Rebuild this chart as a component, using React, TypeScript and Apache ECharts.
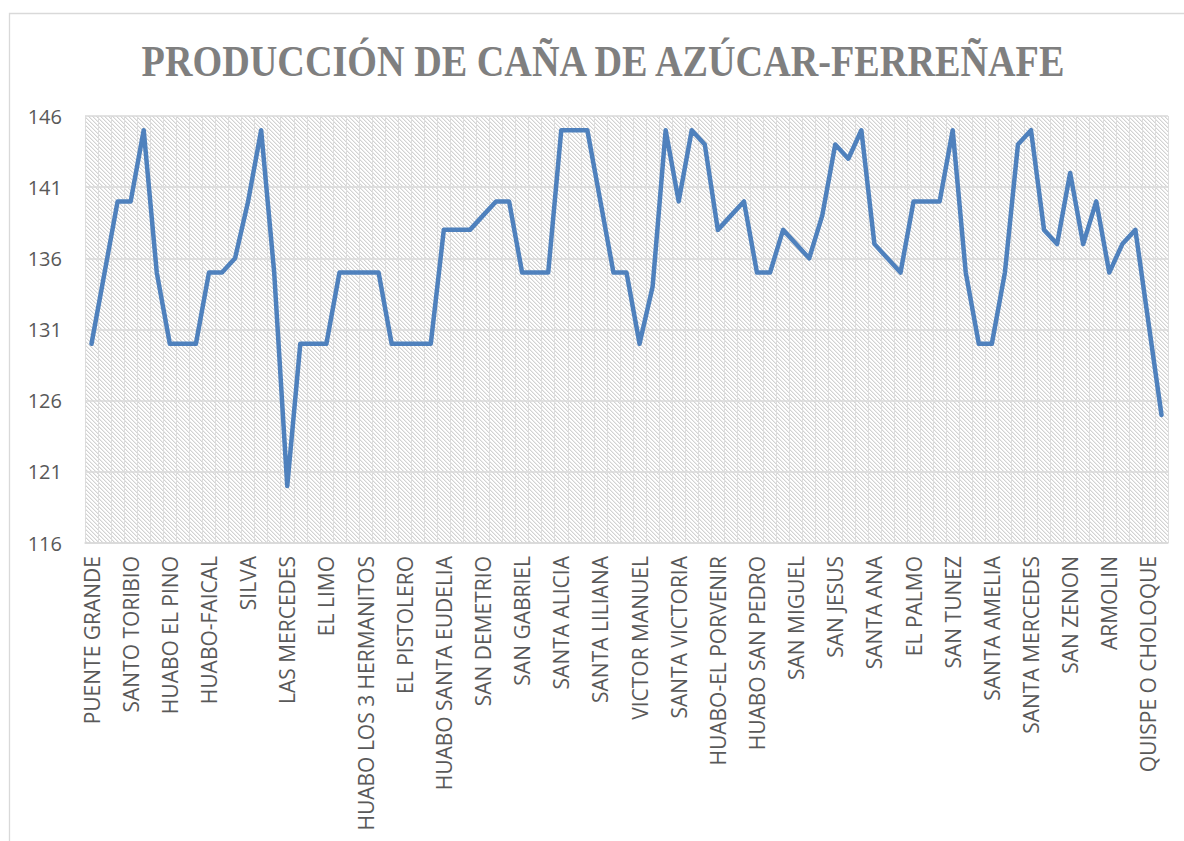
import React, { useEffect, useRef } from "react";
import * as echarts from "echarts";

const TITLE = "PRODUCCIÓN DE CAÑA DE AZÚCAR-FERREÑAFE";

// Labels shown on the axis (every third category)
const LABELS = [
  "PUENTE GRANDE", "SANTO TORIBIO", "HUABO EL PINO", "HUABO-FAICAL", "SILVA",
  "LAS MERCEDES", "EL LIMO", "HUABO LOS 3 HERMANITOS", "EL PISTOLERO",
  "HUABO SANTA EUDELIA", "SAN DEMETRIO", "SAN GABRIEL", "SANTA ALICIA",
  "SANTA LILIANA", "VICTOR MANUEL", "SANTA VICTORIA", "HUABO-EL PORVENIR",
  "HUABO SAN PEDRO", "SAN MIGUEL", "SAN JESUS", "SANTA ANA", "EL PALMO",
  "SAN TUNEZ", "SANTA AMELIA", "SANTA MERCEDES", "SAN ZENON", "ARMOLIN",
  "QUISPE O CHOLOQUE",
];
const LABEL_STEP = 3;

const VALUES = [
  130, 135, 140, 140, 145, 135, 130, 130, 130, 135,
  135, 136, 140, 145, 135, 120, 130, 130, 130, 135,
  135, 135, 135, 130, 130, 130, 130, 138, 138, 138,
  139, 140, 140, 135, 135, 135, 145, 145, 145, 140,
  135, 135, 130, 134, 145, 140, 145, 144, 138, 139,
  140, 135, 135, 138, 137, 136, 139, 144, 143, 145,
  137, 136, 135, 140, 140, 140, 145, 135, 130, 130,
  135, 144, 145, 138, 137, 142, 137, 140, 135, 137,
  138, 131.5, 125,
];

const Y_MIN = 116;
const Y_MAX = 146;
const Y_STEP = 5;

const CATEGORIES = VALUES.map((_, i) =>
  i % LABEL_STEP === 0 ? LABELS[i / LABEL_STEP] ?? "" : ""
);

function makeHatch(): HTMLCanvasElement {
  const c = document.createElement("canvas");
  c.width = 4;
  c.height = 4;
  const ctx = c.getContext("2d")!;
  ctx.fillStyle = "#ffffff";
  ctx.fillRect(0, 0, 4, 4);
  ctx.fillStyle = "#d2d2d2";
  for (let i = 0; i < 4; i++) ctx.fillRect(i, i, 1, 1);
  ctx.fillStyle = "#ececec";
  for (let i = 0; i < 4; i++) ctx.fillRect((i + 1) % 4, i, 1, 1);
  return c;
}

export default function App() {
  const ref = useRef<HTMLDivElement>(null);
  useEffect(() => {
    if (!ref.current) return;
    const chart = echarts.init(ref.current, undefined, { renderer: "svg" });
    const hatch = makeHatch();
    chart.setOption({
      animation: false,
      backgroundColor: "#ffffff",
      grid: {
        left: 85,
        right: 16,
        top: 116,
        bottom: 298,
        show: true,
        borderWidth: 0,
        backgroundColor: { image: hatch, repeat: "repeat" } as any,
      },
      graphic: [
        {
          type: "rect",
          shape: { x: 9.5, y: 13.5, width: 1200, height: 900 },
          style: { fill: "none", stroke: "#d9d9d9", lineWidth: 1.3 },
          silent: true,
        },
        {
          type: "text",
          x: 603,
          y: 61,
          scaleX: 0.868,
          style: {
            text: TITLE,
            font: "bold 44px 'Liberation Serif', 'DejaVu Serif', serif",
            fill: "#7f7f7f",
            align: "center",
            verticalAlign: "middle",
          },
        },
      ],
      xAxis: {
        type: "category",
        data: CATEGORIES,
        boundaryGap: true,
        axisTick: { show: false },
        axisLine: { show: true, lineStyle: { color: "#d9d9d9", width: 1.5 } },
        axisLabel: {
          interval: LABEL_STEP - 1,
          rotate: 90,
          color: "#595959",
          fontSize: 21,
          fontFamily: "'Open Sans', sans-serif",
          margin: 13,
        },
        splitLine: { show: true, interval: 0, lineStyle: { color: "#dddddd", width: 1 } },
      },
      yAxis: {
        type: "value",
        min: Y_MIN,
        max: Y_MAX,
        interval: Y_STEP,
        axisLine: { show: false },
        axisTick: { show: false },
        axisLabel: {
          color: "#595959",
          fontSize: 20,
          fontFamily: "'Open Sans', sans-serif",
          margin: 23,
        },
        splitLine: { show: true, lineStyle: { color: "#d9d9d9", width: 1.5 } },
      },
      series: [
        {
          type: "line",
          data: VALUES,
          symbol: "none",
          lineStyle: { color: "#4f81bd", width: 4.5, cap: "round", join: "round" },
          itemStyle: { color: "#4f81bd" },
        },
      ],
    });
    return () => chart.dispose();
  }, []);
  return (
    <div
      ref={ref}
      style={{ position: "fixed", left: 0, top: 0, width: 1184, height: 841 }}
    />
  );
}
